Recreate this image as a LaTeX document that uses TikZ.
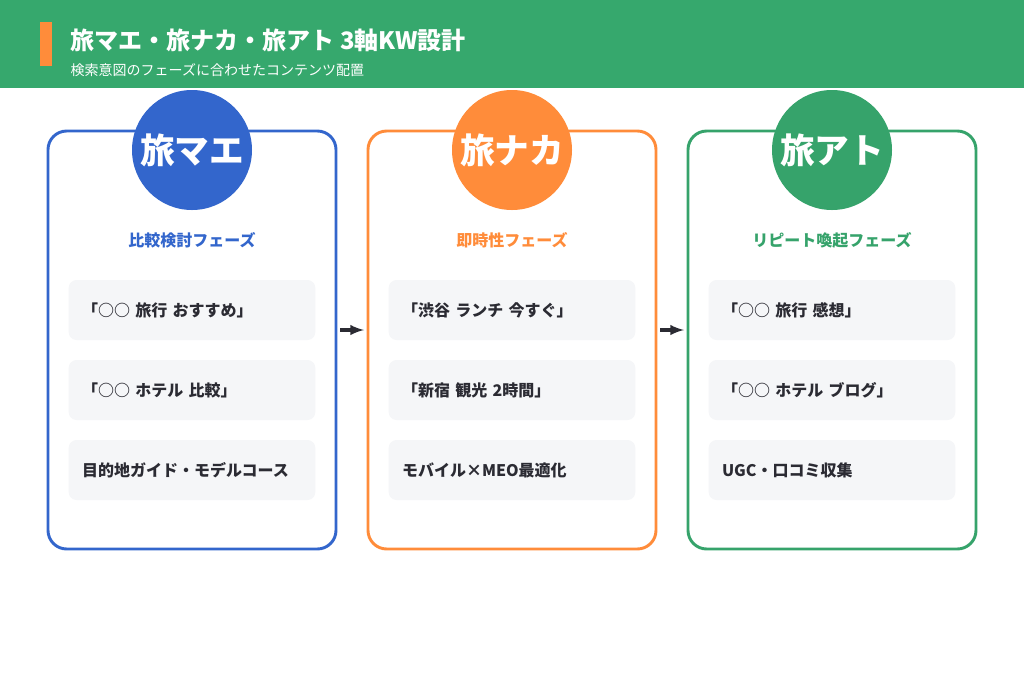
\documentclass[tikz,border=0pt]{standalone}
\usepackage{fontspec}
\setmainfont{Noto Sans CJK JP}
\usetikzlibrary{positioning}
\definecolor{hdgreen}{HTML}{36A86D}
\definecolor{barorange}{HTML}{FF8C3A}
\definecolor{maeblue}{HTML}{3366CC}
\definecolor{nakaorange}{HTML}{FF8C3A}
\definecolor{atogreen}{HTML}{36A36B}
\definecolor{itemgray}{HTML}{F5F6F8}
\definecolor{inkdark}{HTML}{2B2B33}
\begin{document}
\begin{tikzpicture}[x=0.75pt,y=-0.75pt,>=latex,
  panel/.style={draw=#1,line width=2.2pt,rounded corners=14pt},
  badge/.style={circle,fill=#1,minimum size=90pt,inner sep=0pt,text=white,font=\bfseries\fontsize{26}{28}\selectfont},
  phase/.style={text=#1,font=\bfseries\fontsize{12}{14}\selectfont},
  item/.style={fill=itemgray,rounded corners=6pt,minimum width=185pt,minimum height=45pt,inner xsep=10pt,text width=165pt,align=left,text=inkdark,font=\bfseries\fontsize{12}{14}\selectfont},
  flow/.style={->,line width=2.5pt,inkdark}]
  \useasboundingbox (0,0) rectangle (1024,683);
  % header
  \fill[hdgreen] (0,0) rectangle (1024,88);
  \fill[barorange] (40,22) rectangle (52,66);
  \node[anchor=west,text=white,font=\bfseries\fontsize{18}{20}\selectfont] (title) at (66,40) {旅マエ・旅ナカ・旅アト 3軸KW設計};
  \node[anchor=west,text=white,font=\fontsize{10.5}{12}\selectfont] (subtitle) at (66,70) {検索意図のフェーズに合わせたコンテンツ配置};
  % panels
  \foreach \x/\col/\nm/\ph/\a/\b/\c [count=\i] in {
    48/maeblue/旅マエ/比較検討フェーズ/「○○ 旅行 おすすめ」/「○○ ホテル 比較」/目的地ガイド・モデルコース,
    368/nakaorange/旅ナカ/即時性フェーズ/「渋谷 ランチ 今すぐ」/「新宿 観光 2時間」/モバイル×MEO最適化,
    688/atogreen/旅アト/リピート喚起フェーズ/「○○ 旅行 感想」/「○○ ホテル ブログ」/UGC・口コミ収集}{
    \draw[panel=\col,fill=white] (\x,131) rectangle (\x+288,549);
    \node[badge=\col] (badge\i) at (\x+144,150) {\nm};
    \node[phase=\col] (phase\i) at (\x+144,240) {\ph};
    \node[item] (itemA\i) at (\x+144,310) {\a};
    \node[item] (itemB\i) at (\x+144,390) {\b};
    \node[item] (itemC\i) at (\x+144,470) {\c};
  }
  \coordinate (gapA) at (340,330);
  \coordinate (gapB) at (660,330);
  \draw[flow] (gapA) -- ++(24,0);
  \draw[flow] (gapB) -- ++(24,0);
\end{tikzpicture}
\end{document}
